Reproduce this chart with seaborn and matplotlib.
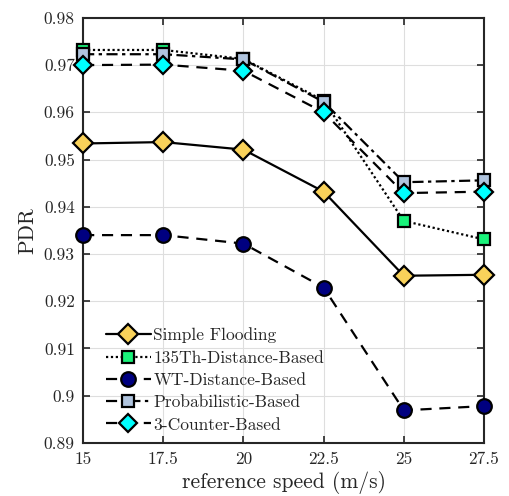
import matplotlib
matplotlib.use("Agg")
import matplotlib.pyplot as plt
import seaborn as sns
import pandas as pd

speeds = [15, 17.5, 20, 22.5, 25, 27.5]
simple_flooding = [0.9534, 0.9537, 0.9521, 0.9432, 0.9254, 0.9256]
th135_distance = [0.9732, 0.9732, 0.9713, 0.9625, 0.9370, 0.9331]
wt_distance = [0.9340, 0.9340, 0.9322, 0.9229, 0.8969, 0.8978]
probabilistic = [0.9723, 0.9723, 0.9712, 0.9622, 0.9452, 0.9456]
counter3 = [0.9700, 0.9701, 0.9688, 0.9600, 0.9429, 0.9432]

series_names = ["Simple Flooding", "135Th-Distance-Based", "WT-Distance-Based",
                "Probabilistic-Based", "3-Counter-Based"]
y_ticks = [0.89, 0.90, 0.91, 0.92, 0.93, 0.94, 0.95, 0.96, 0.97, 0.98]
y_tick_labels = ["0.89", "0.9", "0.91", "0.92", "0.93", "0.94", "0.95", "0.96", "0.97", "0.98"]
x_tick_labels = ["15", "17.5", "20", "22.5", "25", "27.5"]

sns.set_theme(style="white")
plt.rcParams["font.family"] = ["cmr10", "DejaVu Serif"]
plt.rcParams["axes.formatter.use_mathtext"] = True
plt.rcParams["axes.unicode_minus"] = False

styles = [
    dict(color="black", linestyle="-", marker="D", mfc="#F9D25A", ms=10),
    dict(color="black", linestyle=(0, (1, 1.2)), marker="s", mfc="#19F27A", ms=8.5),
    dict(color="black", linestyle=(0, (5, 3.5)), marker="o", mfc="#000080", ms=10.5),
    dict(color="black", linestyle=(0, (5, 2, 1.5, 2)), marker="s", mfc="#B0C4DE", ms=9),
    dict(color="black", linestyle=(0, (5, 3.5)), marker="D", mfc="#00FFFF", ms=9.5),
]
values = [simple_flooding, th135_distance, wt_distance, probabilistic, counter3]

fig = plt.figure(figsize=(5.10, 4.96), dpi=100)
ax = fig.add_axes([0.163, 0.107, 0.786, 0.857])

for name, vals, st in zip(series_names, values, styles):
    df = pd.DataFrame({"speed": speeds, "pdr": vals})
    sns.lineplot(data=df, x="speed", y="pdr", ax=ax, label=name,
                 color=st["color"], linestyle=st["linestyle"], linewidth=1.6,
                 marker=st["marker"], markersize=st["ms"],
                 markerfacecolor=st["mfc"], markeredgecolor="black",
                 markeredgewidth=1.6, clip_on=False, zorder=3)

ax.set_xlim(15, 27.5)
ax.set_ylim(0.89, 0.98)
ax.set_xticks(speeds)
ax.set_xticklabels(x_tick_labels)
ax.set_yticks(y_ticks)
ax.set_yticklabels(y_tick_labels)
ax.grid(True, color="#dedede", linewidth=0.8)
ax.tick_params(direction="in", length=5, width=1.2, top=True, right=True,
               bottom=True, left=True, labelsize=12.5, colors="#262626",
               labelcolor="#262626", pad=6)
for sp in ax.spines.values():
    sp.set_color("#262626")
    sp.set_linewidth(1.5)

ax.set_xlabel("reference speed (m/s)", fontsize=15.5, labelpad=3)
ax.set_ylabel("PDR", fontsize=15.5, labelpad=5)

leg = ax.legend(loc="lower left", bbox_to_anchor=(0.03, 0.0), frameon=False,
                fontsize=12.5, handlelength=2.6, handletextpad=0.15,
                labelspacing=0.4, borderaxespad=0.2)

fig.savefig("out.png", dpi=100)
